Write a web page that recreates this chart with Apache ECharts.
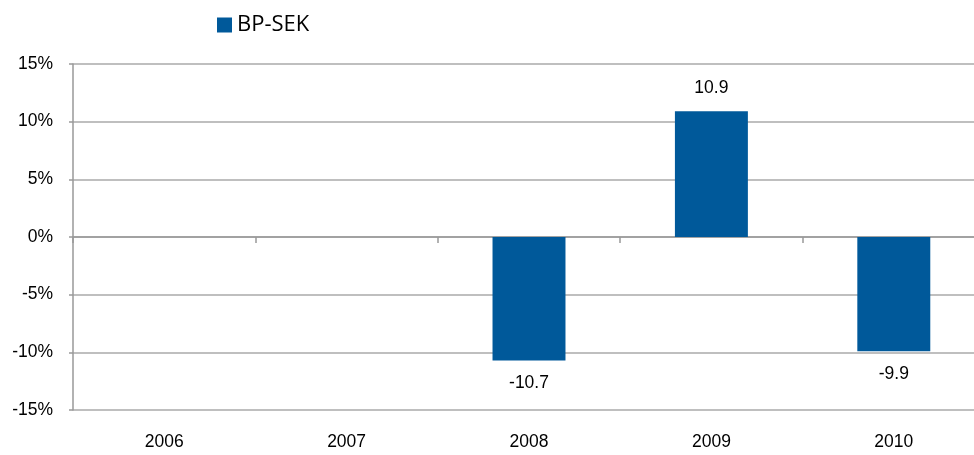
<!DOCTYPE html>
<html>
<head>
<meta charset="utf-8">
<script src="https://cdn.jsdelivr.net/npm/echarts@6/dist/echarts.min.js"></script>
<style>
  html, body { margin: 0; padding: 0; background: #fff; }
  #chart { width: 974px; height: 455px; }
</style>
</head>
<body>
<div id="chart"></div>
<script>
// data
var years = ['2006', '2007', '2008', '2009', '2010'];
var bpSek = [null, null, -10.7, 10.9, -9.9];
var seriesName = 'BP-SEK';

var chart = echarts.init(document.getElementById('chart'));

var barData = bpSek.map(function (v) {
  if (v === null) return null;
  return { value: v, label: { position: v < 0 ? 'bottom' : 'top' } };
});

var option = {
  animation: false,
  color: ['#00599A'],
  legend: {
    data: [seriesName],
    left: 212,
    top: 9,
    icon: 'rect',
    itemWidth: 15,
    itemHeight: 15,
    itemGap: 6,
    textStyle: { fontFamily: 'Open Sans', fontSize: 22, color: '#000' }
  },
  // plot runs a little past the right edge of the canvas, as in the reference
  grid: { left: 73, right: -11, top: 64, bottom: 45, outerBoundsMode: 'none' },
  xAxis: [{
    type: 'category',
    data: years,
    position: 'bottom',
    axisLine: { show: false, onZero: false },
    axisTick: { show: false },
    axisLabel: { margin: 23, fontFamily: 'Liberation Sans', fontSize: 17.5, color: '#000' }
  }, {
    type: 'category',
    data: years,
    position: 'top',
    axisLine: { onZero: true, lineStyle: { color: '#999', width: 1.5 } },
    axisTick: { show: true, inside: true, length: 6, lineStyle: { color: '#999', width: 1.5 } },
    axisLabel: { show: false }
  }],
  yAxis: {
    type: 'value',
    min: -15,
    max: 15,
    interval: 5,
    axisLine: { show: true, lineStyle: { color: '#999', width: 1.5 } },
    axisTick: { show: true, length: 4, lineStyle: { color: '#999', width: 1.5 } },
    splitLine: { lineStyle: { color: '#aaa', width: 1.5 } },
    axisLabel: {
      margin: 20,
      fontFamily: 'Liberation Sans',
      fontSize: 17.5,
      color: '#000',
      formatter: '{value}%'
    }
  },
  series: [{
    name: seriesName,
    type: 'bar',
    data: barData,
    xAxisIndex: 0,
    barWidth: '40%',
    label: {
      show: true,
      position: 'top',
      distance: 14,
      fontFamily: 'Liberation Sans',
      fontSize: 17.5,
      color: '#000',
      formatter: function (p) { return p.value.toFixed(1); }
    }
  }]
};

chart.setOption(option);
</script>
</body>
</html>
